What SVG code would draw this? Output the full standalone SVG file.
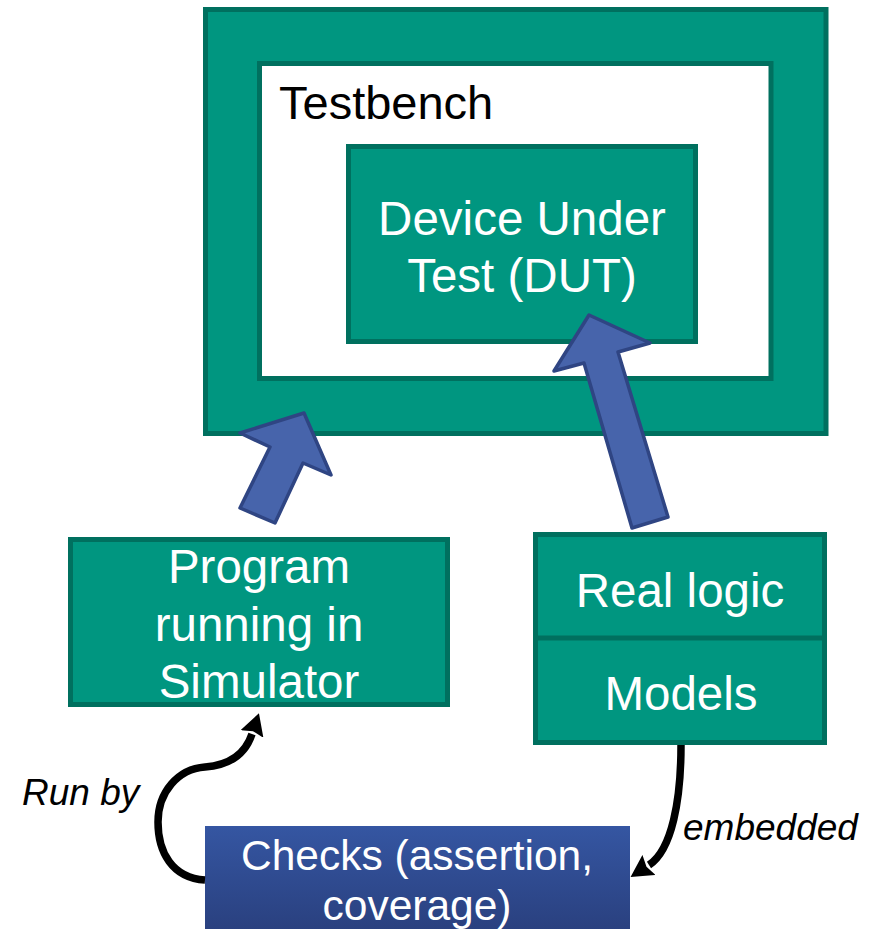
<svg xmlns="http://www.w3.org/2000/svg" width="869" height="929" viewBox="0 0 869 929">
  <style>
    .box { fill: #009680; stroke: #00705f; stroke-width: 5; }
    .frame { fill: #ffffff; stroke: #00705f; stroke-width: 5; }
    .lbl { font-family: "Liberation Sans", Arial, sans-serif; font-size: 47.5px; fill: #ffffff; text-anchor: middle; }
    .dark { fill: #000000; text-anchor: start; font-size: 47px; }
    .small { font-size: 42.5px; }
    .note { font-family: "Liberation Sans", Arial, sans-serif; font-size: 37px; font-style: italic; fill: #000000; }
    .block { fill: #4764ab; stroke: #2f4583; stroke-width: 3.5; stroke-linejoin: round; }
    .curve { fill: none; stroke: #000000; stroke-width: 7.5; marker-end: url(#head); }
  </style>
  <defs>
    <marker id="head" markerUnits="userSpaceOnUse" viewBox="0 -12 22 24" refX="0" refY="0" markerWidth="22" markerHeight="24" orient="auto">
      <path d="M0,-12 L22,0 L0,12 L3,0 z" fill="#000000"/>
    </marker>
    <linearGradient id="checksFill" x1="0" y1="0" x2="0" y2="1">
      <stop offset="0" stop-color="#3556a2"/>
      <stop offset="1" stop-color="#293f7d"/>
    </linearGradient>
  </defs>

  <rect width="869" height="929" fill="#ffffff"/>

  <!-- simulation environment frame -->
  <g id="environment">
    <rect class="box" x="205.5" y="9.5" width="620.5" height="424"/>
  </g>

  <!-- testbench -->
  <g id="testbench">
    <rect class="frame" x="259.5" y="63.5" width="511.5" height="315"/>
    <text class="lbl dark" x="279" y="119">Testbench</text>
  </g>

  <!-- device under test -->
  <g id="dut">
    <rect class="box" x="348.5" y="146.5" width="347" height="195"/>
    <text class="lbl" x="522" y="235">Device Under</text>
    <text class="lbl" x="522" y="292">Test (DUT)</text>
  </g>

  <!-- simulator program -->
  <g id="program">
    <rect class="box" x="70.5" y="539.5" width="377" height="165"/>
    <text class="lbl" x="259" y="583">Program</text>
    <text class="lbl" x="259" y="641">running in</text>
    <text class="lbl" x="259" y="698">Simulator</text>
  </g>

  <!-- real logic / models stack -->
  <g id="logic-models">
    <rect class="box" x="535.5" y="534.5" width="289" height="208"/>
    <line x1="535.5" y1="638" x2="824.5" y2="638" stroke="#00705f" stroke-width="5"/>
    <text class="lbl" x="680" y="607">Real logic</text>
    <text class="lbl" x="681" y="710">Models</text>
  </g>

  <!-- checks -->
  <g id="checks">
    <rect x="205" y="826" width="425" height="110" fill="url(#checksFill)"/>
    <text class="lbl small" x="417" y="870">Checks (assertion,</text>
    <text class="lbl small" x="417" y="920">coverage)</text>
  </g>

  <!-- connectors -->
  <g id="connectors">
    <polygon class="block" points="304,413 331,475 303,463 275,523 240,508 270,447 240,433"/>
    <polygon class="block" points="589,315 650,343 618,352 668,517 632,528 584,363 554,371"/>
    <path class="curve" d="M205,880 C172,878 158,852 158,822 C158,792 178,769 205,767 C232,765 246,752 252,734"/>
    <path class="curve" d="M681,745 C681,800 672,850 649,865"/>
    <text class="note" x="22" y="805">Run by</text>
    <text class="note" x="683" y="840">embedded</text>
  </g>
</svg>
